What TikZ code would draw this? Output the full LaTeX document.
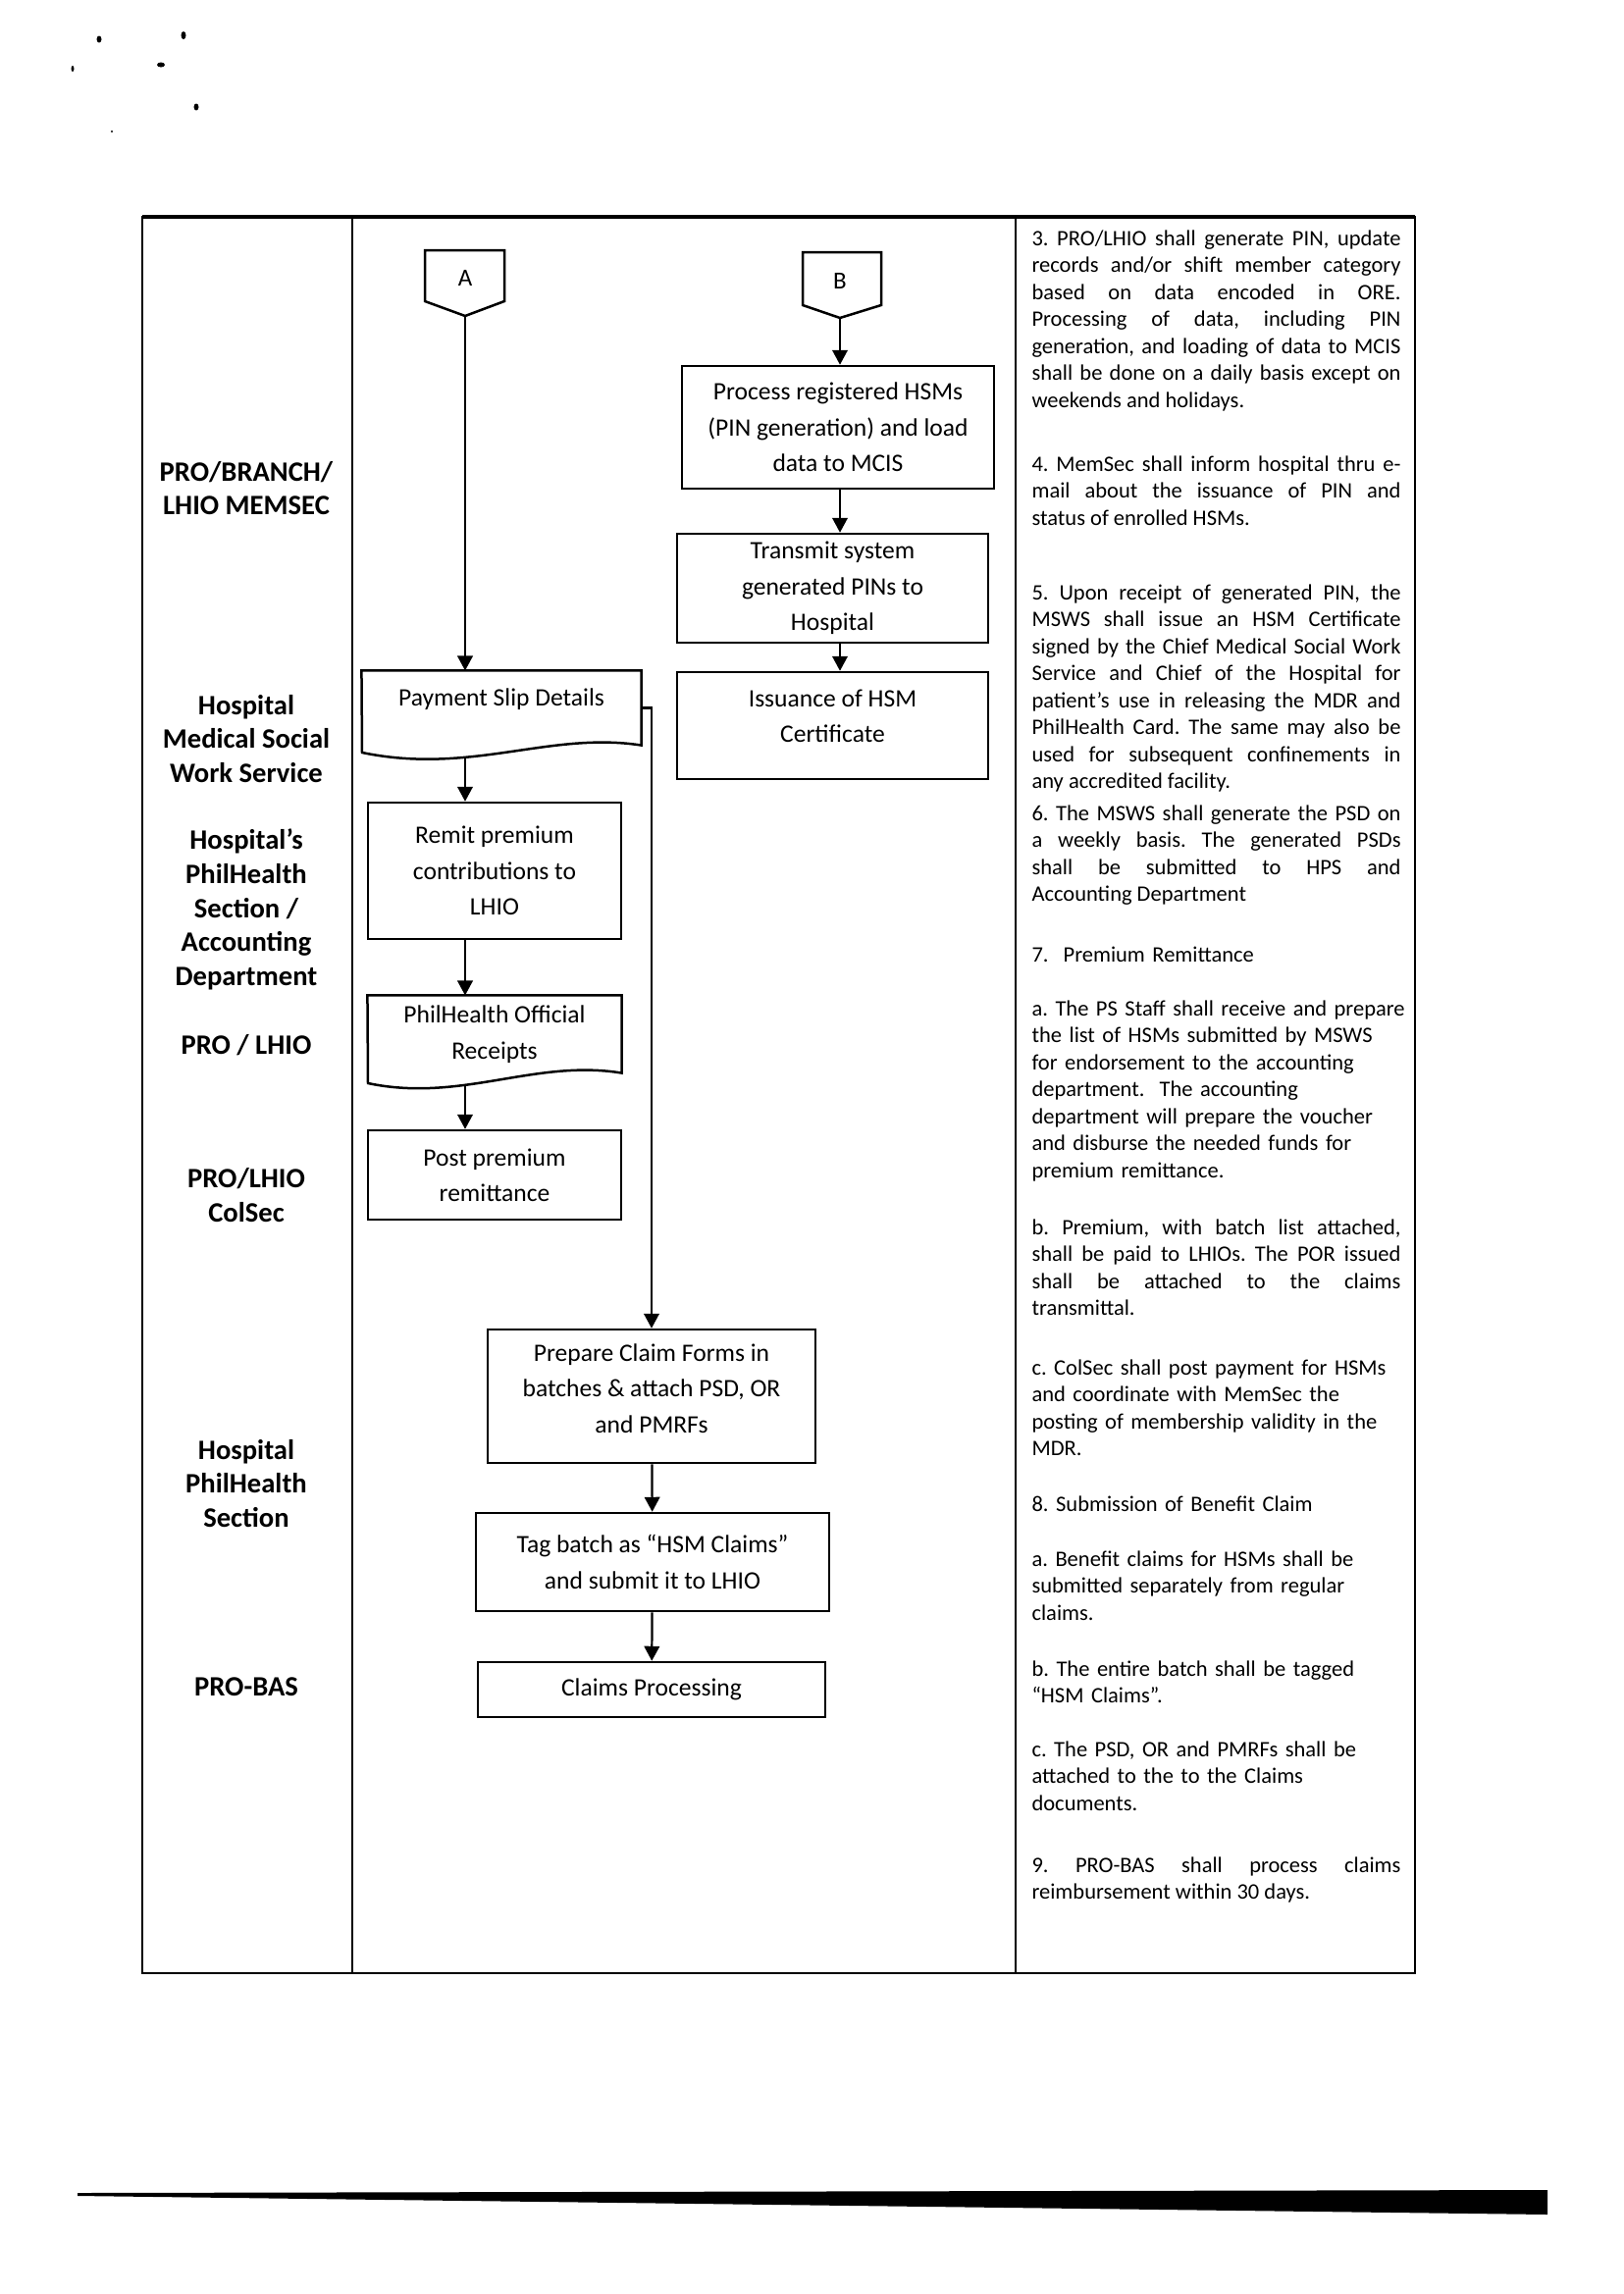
\documentclass[tikz,border=0pt]{standalone}
\usepackage{fontspec}
\setmainfont{Carlito}
\usetikzlibrary{arrows.meta}
\newcommand\bxfont{\fontsize{9.2}{13.1}\selectfont}
\newcommand\lanefont{\fontsize{10.3}{12.5}\selectfont\bfseries}
\newcommand\parfont{\fontsize{8.1}{9.9}\selectfont\frenchspacing\hyphenpenalty=10000 }
\begin{document}
\begin{tikzpicture}[x=0.36pt,y=-0.36pt,
  bx/.style 2 args={draw,line width=0.9pt,minimum width=#1*0.36pt,minimum height=#2*0.36pt,inner sep=0pt,align=center,font=\bxfont},
  shp/.style 2 args={draw=none,minimum width=#1*0.36pt,minimum height=#2*0.36pt,inner sep=0pt,align=center,font=\bxfont},
  txt/.style={inner sep=0pt,align=center,font=\bxfont},
  lane/.style={inner sep=0pt,align=center,font=\lanefont},
  para/.style={inner sep=0pt,text width=135.36pt,font=\parfont,anchor=base west},
  rpara/.style={inner sep=0pt,text width=142pt,font=\parfont,anchor=base west,align=left},
  arr/.style={line width=0.8pt,-{Triangle[length=5.4pt,width=5.6pt]}},
  frm/.style={line width=0.9pt},
  shape line/.style={line width=0.9pt}]
\useasboundingbox (0,0) rectangle (1654,2338);

% scan specks
\fill (101,40) ellipse (2.5 and 3.5);
\fill (187,36) ellipse (2.5 and 4);
\fill (164,66) ellipse (4 and 2.5);
\fill (200,109) ellipse (2.5 and 3.5);
\fill (74,70) ellipse (1.5 and 3);
\fill (114,134) circle (1.2);

% frame
\draw[frm] (145,221) rectangle (1442,2011);
\draw[line width=1.3pt] (145,221) -- (1442,221);
\draw[frm] (359,221) -- (359,2011);
\draw[frm] (1035,221) -- (1035,2011);

% lane labels
\node[lane] (l1) at (251,497.5) {PRO/BRANCH/\\LHIO MEMSEC};
\node[lane] (l2) at (251,753) {Hospital\\Medical Social\\Work Service};
\node[lane] (l3) at (251,927) {Hospital’s\\PhilHealth\\Section /\\Accounting\\Department};
\node[lane] (l4) at (251,1065) {PRO / LHIO};
\node[lane] (l5) at (251,1218) {PRO/LHIO\\ColSec};
\node[lane] (l6) at (251,1512) {Hospital\\PhilHealth\\Section};
\node[lane] (l7) at (251,1719) {PRO-BAS};

% off-page connectors
\draw[shape line] (433,255) -- (514,255) -- (514,307) -- (474,322) -- (433,307) -- cycle;
\node[txt,font=\fontsize{9}{11}\selectfont] (A) at (474,283) {A};
\coordinate (Atip) at (474,322);
\draw[shape line] (818,257) -- (898,257) -- (898,311) -- (856,324) -- (818,311) -- cycle;
\node[txt,font=\fontsize{9}{11}\selectfont] (B) at (856,286) {B};
\coordinate (Btip) at (856,324);

% right branch
\node[bx={318}{125}] (proc) at (854,435.5) {Process registered HSMs\\(PIN generation) and load\\data to MCIS};
\node[bx={317}{111}] (trans) at (848.5,599.5) {Transmit system\\generated PINs to\\Hospital};
\node[bx={317}{109}] (iss) at (848.5,739.5) {};
\node[txt] (isst) at (848.5,730) {Issuance of HSM\\Certificate};

% left branch
\node[shp={284}{75}] (ps) at (511,721.5) {};
\draw[shape line] (ps.north west) -- (ps.north east) -- (ps.south east)
  .. controls (560,745) and (480,790) .. (369,767) -- cycle;
\node[txt] (pst) at (511,713) {Payment Slip Details};
\coordinate (psw) at (474,771);

\node[bx={258}{139}] (remit) at (504,887.5) {Remit premium\\contributions to\\LHIO};

\node[shp={258}{78}] (rec) at (504,1054) {PhilHealth Official\\Receipts};
\draw[shape line] (rec.north west) -- (rec.north east) -- (rec.south east)
  .. controls (545,1079) and (470,1124) .. (375,1104) -- cycle;
\coordinate (recw) at (474,1105);

\node[bx={258}{91}] (post) at (504,1197.5) {Post premium\\remittance};

% claims branch
\node[bx={334}{136}] (prep) at (664,1423) {};
\node[txt] (prept) at (664,1415) {Prepare Claim Forms in\\batches \& attach PSD, OR\\and PMRFs};
\node[bx={360}{100}] (tag) at (665,1592) {Tag batch as “HSM Claims”\\and submit it to LHIO};
\node[bx={354}{56}] (claims) at (664,1722) {Claims Processing};

% connectors
\draw[arr] (Atip) -- (ps.north -| Atip);
\draw[arr] (psw) -- (remit.north -| psw);
\draw[arr] (remit.south -| psw) -- (rec.north -| psw);
\draw[arr] (recw) -- (post.north -| recw);
\draw[arr] (Btip) -- (proc.north -| Btip);
\draw[arr] (proc.south -| Btip) -- (trans.north -| Btip);
\draw[arr] (trans.south -| Btip) -- (iss.north -| Btip);
\draw[arr] (ps.east) -| (prep.north);
\draw[arr] (prep) -- (tag);
\draw[arr] (tag) -- (claims);

% right column text
\node[para,align=justify] (p3) at (1051,250) {3. PRO/LHIO shall generate PIN, update\linebreak records and/or shift member category\linebreak based on data encoded in ORE.\linebreak Processing of data, including PIN\linebreak generation, and loading of data to MCIS\linebreak shall be done on a daily basis except on\linebreak weekends and holidays.};
\node[para,align=justify] (p4) at (1051,480) {4. MemSec shall inform hospital thru e-\linebreak mail about the issuance of PIN and\linebreak status of enrolled HSMs.};
\node[para,align=justify] (p5) at (1051,611) {5. Upon receipt of generated PIN, the\linebreak MSWS shall issue an HSM Certificate\linebreak signed by the Chief Medical Social Work\linebreak Service and Chief of the Hospital for\linebreak patient’s use in releasing the MDR and\linebreak PhilHealth Card. The same may also be\linebreak used for subsequent confinements in\linebreak any accredited facility.};
\node[para,align=justify] (p6) at (1051,836) {6. The MSWS shall generate the PSD on\linebreak a weekly basis. The generated PSDs\linebreak shall be submitted to HPS and\linebreak Accounting Department};
\node[rpara] (p7) at (1051,980) {7.\ \ Premium Remittance};
\node[rpara] (p7a) at (1051,1035) {a. The PS Staff shall receive and prepare\\the list of HSMs submitted by MSWS\\for endorsement to the accounting\\department.\ \ The accounting\\department will prepare the voucher\\and disburse the needed funds for\\premium remittance.};
\node[para,align=justify] (p7b) at (1051,1258) {b. Premium, with batch list attached,\linebreak shall be paid to LHIOs. The POR issued\linebreak shall be attached to the claims\linebreak transmittal.};
\node[rpara] (p7c) at (1051,1401) {c. ColSec shall post payment for HSMs\\and coordinate with MemSec the\\posting of membership validity in the\\MDR.};
\node[rpara] (p8) at (1051,1540) {8. Submission of Benefit Claim};
\node[rpara] (p8a) at (1051,1596) {a. Benefit claims for HSMs shall be\\submitted separately from regular\\claims.};
\node[rpara] (p8b) at (1051,1708) {b. The entire batch shall be tagged\\“HSM Claims”.};
\node[rpara] (p8c) at (1051,1790) {c. The PSD, OR and PMRFs shall be\\attached to the to the Claims\\documents.};
\node[para,align=justify] (p9) at (1051,1908) {9. PRO-BAS shall process claims\linebreak reimbursement within 30 days.};

% footer bar
\fill (79,2235) -- (1577,2232) -- (1577,2257) -- (79,2238) -- cycle;
\end{tikzpicture}
\end{document}
